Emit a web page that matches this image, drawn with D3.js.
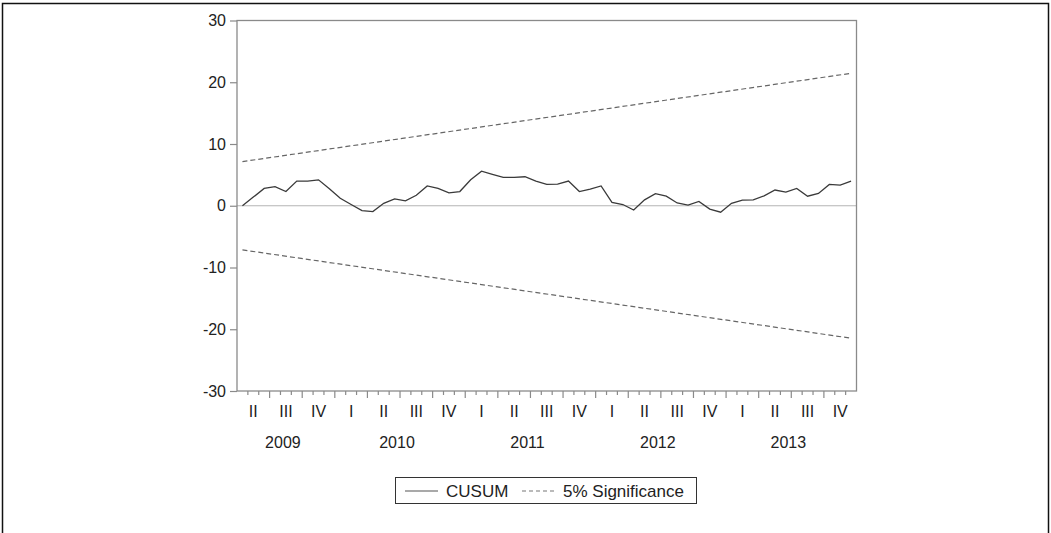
<!DOCTYPE html>
<html>
<head>
<meta charset="utf-8">
<script src="https://cdn.jsdelivr.net/npm/d3@7"></script>
<style>
  html, body { margin: 0; padding: 0; background: #fff; }
  svg { display: block; font-family: "Liberation Sans", Arial, sans-serif; }
</style>
</head>
<body>
<div id="chart"></div>
<script>
// CUSUM test, monthly, Apr 2009 - Dec 2013
const cusum = [0, 1.4, 2.8, 3.1, 2.3, 4.0, 4.0, 4.2, 2.75, 1.2,
    0.2, -0.8, -0.95, 0.4, 1.1, 0.8, 1.7, 3.2, 2.8, 2.1,
    2.3, 4.2, 5.6, 5.1, 4.6, 4.6, 4.7, 4.0, 3.45, 3.5,
    4.0, 2.3, 2.7, 3.2, 0.55, 0.2, -0.7, 0.95, 1.95, 1.55,
    0.45, 0.1, 0.7, -0.55, -1.05, 0.4, 0.9, 0.95, 1.6, 2.55,
    2.2, 2.8, 1.55, 2.0, 3.45, 3.35, 4.0];

// 5% significance bounds (first and last observation)
const upperBound = [{ i: 0, v: 7.15 }, { i: 56, v: 21.45 }];
const lowerBound = [{ i: 0, v: -7.15 }, { i: 56, v: -21.45 }];

const yTicks = [-30, -20, -10, 0, 10, 20, 30];
const quarterLabels = ['II', 'III', 'IV', 'I', 'II', 'III', 'IV', 'I', 'II', 'III', 'IV',
    'I', 'II', 'III', 'IV', 'I', 'II', 'III', 'IV'];
const years = ['2009', '2010', '2011', '2012', '2013'];
const yearMonths = [9, 12, 12, 12, 12]; // months of each year in sample

const W = 1051, H = 533;
const plot = { left: 237, right: 856.5, top: 20.5, bottom: 391 };

const svg = d3.select('#chart')
    .append('svg')
    .attr('width', W)
    .attr('height', H);

// outer frame
svg.append('rect')
    .attr('x', 2.5).attr('y', 3.5)
    .attr('width', 1046).attr('height', 560)
    .attr('fill', 'none')
    .attr('stroke', '#111')
    .attr('stroke-width', 1.5);

// scales: x over month index (period boundaries), y over values
const nMonths = cusum.length;
const x = d3.scaleLinear().domain([0, nMonths]).range([plot.left, plot.right]);
const y = d3.scaleLinear().domain([-30, 30]).range([plot.bottom, plot.top]);

// zero line
svg.append('line')
    .attr('x1', plot.left).attr('x2', plot.right)
    .attr('y1', y(0)).attr('y2', y(0))
    .attr('stroke', '#b4b4b4')
    .attr('stroke-width', 1.2);

// plot box
svg.append('rect')
    .attr('x', plot.left).attr('y', plot.top)
    .attr('width', plot.right - plot.left)
    .attr('height', plot.bottom - plot.top)
    .attr('fill', 'none')
    .attr('stroke', '#8a8a8a')
    .attr('stroke-width', 1.3);

// y axis ticks + labels (plain hyphen minus, like the original)
const yAxis = d3.axisLeft(y)
    .tickValues(yTicks)
    .tickSize(7)
    .tickPadding(4)
    .tickFormat(d => String(d));

const gy = svg.append('g')
    .attr('transform', `translate(${plot.left},0)`)
    .call(yAxis);
gy.select('.domain').remove();
gy.selectAll('line').attr('stroke', '#8a8a8a').attr('stroke-width', 1.2);
gy.selectAll('text')
    .attr('fill', '#222')
    .style('font-size', '16px')
    .style('font-family', '"Liberation Sans", Arial, sans-serif');

// x axis: minor ticks at month boundaries, major at quarters
const monthTicks = d3.range(1, nMonths);
svg.append('g')
    .selectAll('line')
    .data(monthTicks)
    .enter()
    .append('line')
    .attr('x1', d => x(d)).attr('x2', d => x(d))
    .attr('y1', plot.bottom)
    .attr('y2', d => plot.bottom + (d % 3 === 0 ? 7 : 4))
    .attr('stroke', '#8a8a8a')
    .attr('stroke-width', 1.2);

svg.append('g')
    .selectAll('text')
    .data(quarterLabels)
    .enter()
    .append('text')
    .attr('x', (d, i) => x(i * 3 + 1.5))
    .attr('y', 417)
    .attr('text-anchor', 'middle')
    .attr('fill', '#222')
    .style('font-size', '16px')
    .text(d => d);

const yearStart = d3.cumsum([0].concat(yearMonths));
svg.append('g')
    .selectAll('text')
    .data(years)
    .enter()
    .append('text')
    .attr('x', (d, i) => x((yearStart[i] + yearStart[i + 1]) / 2) - 3)
    .attr('y', 448)
    .attr('text-anchor', 'middle')
    .attr('fill', '#222')
    .style('font-size', '16px')
    .text(d => d);

// significance bounds
const boundLine = d3.line()
    .x(d => x(d.i + 0.5))
    .y(d => y(d.v));

[upperBound, lowerBound].forEach(b => {
    svg.append('path')
        .datum(b)
        .attr('fill', 'none')
        .attr('stroke', '#666')
        .attr('stroke-width', 1.2)
        .attr('stroke-dasharray', '5,3')
        .attr('d', boundLine);
});

// CUSUM line
const cusumLine = d3.line()
    .x((d, i) => x(i + 0.5))
    .y(d => y(d));

svg.append('path')
    .datum(cusum)
    .attr('fill', 'none')
    .attr('stroke', '#3a3a3a')
    .attr('stroke-width', 1.3)
    .attr('d', cusumLine);

// legend
const legend = svg.append('g');
legend.append('rect')
    .attr('x', 395.5).attr('y', 477.5)
    .attr('width', 301).attr('height', 26)
    .attr('fill', 'none')
    .attr('stroke', '#333')
    .attr('stroke-width', 1);

legend.append('line')
    .attr('x1', 405).attr('x2', 438)
    .attr('y1', 491).attr('y2', 491)
    .attr('stroke', '#555').attr('stroke-width', 1.2);
legend.append('text')
    .attr('x', 446).attr('y', 497)
    .attr('fill', '#222')
    .style('font-size', '17px')
    .text('CUSUM');

legend.append('line')
    .attr('x1', 522).attr('x2', 557)
    .attr('y1', 491).attr('y2', 491)
    .attr('stroke', '#777').attr('stroke-width', 1.2)
    .attr('stroke-dasharray', '4,3');
legend.append('text')
    .attr('x', 563).attr('y', 497)
    .attr('fill', '#222')
    .style('font-size', '17px')
    .text('5% Significance');
</script>
</body>
</html>
